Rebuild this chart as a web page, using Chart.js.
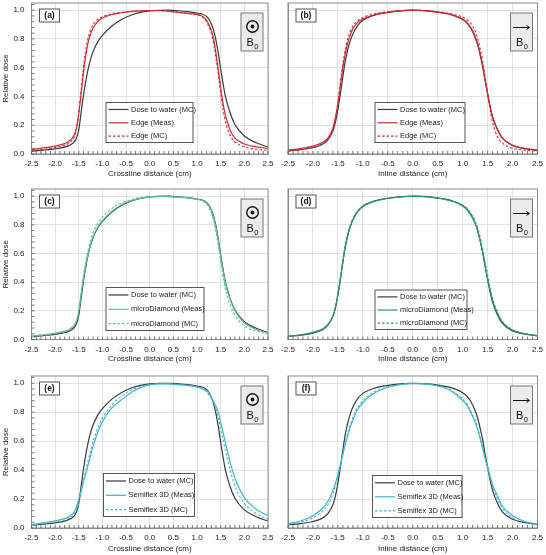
<!DOCTYPE html>
<html>
<head>
<meta charset="utf-8">
<script src="https://cdn.jsdelivr.net/npm/chart.js@4.4.0/dist/chart.umd.min.js"></script>
<style>
html, body { margin: 0; padding: 0; background: #fff; }
#fig { position: relative; width: 546px; height: 555px; overflow: hidden; }
#fig canvas { position: absolute; }
</style>
</head>
<body>
<div id="fig">
  <canvas id="pa" width="273" height="185" style="left:0;top:0"></canvas>
  <canvas id="pb" width="273" height="185" style="left:273px;top:0"></canvas>
  <canvas id="pc" width="273" height="185" style="left:0;top:185px"></canvas>
  <canvas id="pd" width="273" height="185" style="left:273px;top:185px"></canvas>
  <canvas id="pe" width="273" height="185" style="left:0;top:370px"></canvas>
  <canvas id="pf" width="273" height="185" style="left:273px;top:370px"></canvas>
</div>
<script>
// Off-axis positions (cm), shared by every profile
const distance = [-2.5, -2.25, -2.0, -1.8, -1.7, -1.6, -1.55, -1.5, -1.45, -1.4,
    -1.35, -1.3, -1.25, -1.2, -1.1, -1.0, -0.8, -0.6, -0.4, -0.2,
    0,
    0.2, 0.4, 0.6, 0.8, 1.0, 1.1, 1.2, 1.25, 1.3, 1.35,
    1.4, 1.45, 1.5, 1.55, 1.6, 1.7, 1.8, 2.0, 2.25, 2.5];

// Dose to water (MC)
const waterCross = [0.020, 0.027, 0.036, 0.048, 0.060, 0.082, 0.110, 0.170, 0.290, 0.410,
    0.510, 0.595, 0.660, 0.710, 0.780, 0.825, 0.890, 0.935, 0.965, 0.985,
    0.995,
    0.999, 1.000, 0.996, 0.990, 0.980, 0.974, 0.957, 0.937, 0.905, 0.860,
    0.790, 0.700, 0.590, 0.490, 0.400, 0.285, 0.205, 0.125, 0.078, 0.048];
const waterInline = [0.022, 0.030, 0.045, 0.070, 0.100, 0.160, 0.220, 0.310, 0.420, 0.540,
    0.650, 0.730, 0.790, 0.835, 0.895, 0.930, 0.962, 0.980, 0.990, 0.997,
    1.000,
    0.998, 0.992, 0.982, 0.966, 0.935, 0.905, 0.850, 0.810, 0.760, 0.690,
    0.610, 0.510, 0.420, 0.330, 0.260, 0.170, 0.110, 0.060, 0.037, 0.025];

// Edge detector
const edgeCrossMeas = [0.030, 0.042, 0.055, 0.072, 0.090, 0.130, 0.180, 0.280, 0.420, 0.570,
    0.690, 0.780, 0.835, 0.875, 0.920, 0.945, 0.970, 0.982, 0.990, 0.995,
    0.998,
    0.998, 0.993, 0.985, 0.978, 0.970, 0.960, 0.930, 0.900, 0.860, 0.800,
    0.700, 0.580, 0.460, 0.350, 0.270, 0.165, 0.110, 0.070, 0.050, 0.038];
const edgeCrossMC = [0.022, 0.032, 0.045, 0.060, 0.078, 0.115, 0.170, 0.290, 0.450, 0.610,
    0.730, 0.810, 0.865, 0.900, 0.935, 0.955, 0.975, 0.985, 0.992, 0.996,
    0.998,
    0.997, 0.992, 0.985, 0.978, 0.968, 0.955, 0.920, 0.885, 0.840, 0.770,
    0.670, 0.550, 0.420, 0.310, 0.225, 0.130, 0.085, 0.050, 0.033, 0.025];
const edgeInlineMeas = [0.028, 0.038, 0.055, 0.082, 0.110, 0.180, 0.250, 0.350, 0.470, 0.600,
    0.700, 0.775, 0.830, 0.870, 0.915, 0.938, 0.965, 0.980, 0.990, 0.997,
    1.000,
    0.997, 0.990, 0.980, 0.965, 0.938, 0.910, 0.858, 0.818, 0.768, 0.700,
    0.615, 0.515, 0.420, 0.330, 0.255, 0.165, 0.108, 0.060, 0.038, 0.027];
const edgeInlineMC = [0.020, 0.030, 0.045, 0.070, 0.100, 0.170, 0.250, 0.360, 0.500, 0.630,
    0.730, 0.805, 0.855, 0.890, 0.928, 0.950, 0.972, 0.985, 0.993, 0.998,
    1.000,
    0.998, 0.993, 0.985, 0.972, 0.952, 0.930, 0.890, 0.855, 0.805, 0.735,
    0.645, 0.540, 0.420, 0.310, 0.220, 0.120, 0.075, 0.040, 0.027, 0.020];

// microDiamond
const mdCrossMeas = [0.025, 0.033, 0.045, 0.058, 0.070, 0.100, 0.130, 0.200, 0.320, 0.430,
    0.520, 0.600, 0.665, 0.715, 0.785, 0.830, 0.895, 0.940, 0.968, 0.985,
    0.995,
    0.998, 0.997, 0.993, 0.988, 0.978, 0.972, 0.952, 0.930, 0.900, 0.850,
    0.780, 0.690, 0.580, 0.480, 0.390, 0.280, 0.200, 0.115, 0.070, 0.045];
const mdCrossMC = [0.020, 0.028, 0.040, 0.053, 0.066, 0.095, 0.130, 0.200, 0.330, 0.450,
    0.550, 0.630, 0.695, 0.745, 0.810, 0.855, 0.915, 0.952, 0.975, 0.990,
    0.997,
    0.999, 0.997, 0.993, 0.987, 0.977, 0.968, 0.945, 0.920, 0.885, 0.830,
    0.750, 0.650, 0.540, 0.440, 0.350, 0.240, 0.170, 0.095, 0.058, 0.040];
const mdInlineMeas = [0.024, 0.033, 0.050, 0.075, 0.105, 0.165, 0.225, 0.315, 0.425, 0.545,
    0.650, 0.730, 0.790, 0.835, 0.893, 0.928, 0.960, 0.978, 0.989, 0.996,
    0.999,
    0.997, 0.991, 0.980, 0.963, 0.932, 0.900, 0.847, 0.810, 0.760, 0.690,
    0.610, 0.515, 0.425, 0.340, 0.270, 0.180, 0.118, 0.064, 0.040, 0.027];
const mdInlineMC = [0.022, 0.031, 0.047, 0.072, 0.102, 0.165, 0.230, 0.325, 0.440, 0.560,
    0.665, 0.745, 0.800, 0.843, 0.900, 0.932, 0.963, 0.980, 0.990, 0.997,
    1.000,
    0.998, 0.992, 0.982, 0.966, 0.938, 0.910, 0.860, 0.825, 0.780, 0.715,
    0.635, 0.540, 0.450, 0.360, 0.285, 0.190, 0.125, 0.068, 0.041, 0.027];

// Semiflex 3D
const sfCrossMeas = [0.022, 0.035, 0.050, 0.065, 0.080, 0.110, 0.145, 0.200, 0.260, 0.320,
    0.380, 0.440, 0.500, 0.560, 0.660, 0.735, 0.830, 0.885, 0.935, 0.970,
    0.988,
    0.995, 0.995, 0.990, 0.985, 0.975, 0.965, 0.948, 0.932, 0.905, 0.870,
    0.840, 0.800, 0.730, 0.660, 0.590, 0.455, 0.345, 0.210, 0.130, 0.085];
const sfCrossMC = [0.020, 0.030, 0.042, 0.055, 0.068, 0.095, 0.125, 0.180, 0.250, 0.330,
    0.400, 0.470, 0.535, 0.595, 0.690, 0.760, 0.850, 0.910, 0.950, 0.978,
    0.992,
    0.997, 0.996, 0.990, 0.984, 0.973, 0.962, 0.940, 0.920, 0.900, 0.865,
    0.820, 0.760, 0.685, 0.610, 0.535, 0.400, 0.290, 0.170, 0.100, 0.060];
const sfInlineMeas = [0.030, 0.048, 0.085, 0.140, 0.185, 0.260, 0.310, 0.370, 0.440, 0.510,
    0.580, 0.640, 0.700, 0.745, 0.820, 0.865, 0.925, 0.960, 0.980, 0.993,
    0.998,
    0.996, 0.988, 0.972, 0.940, 0.880, 0.840, 0.770, 0.730, 0.680, 0.620,
    0.550, 0.480, 0.420, 0.360, 0.300, 0.220, 0.150, 0.085, 0.045, 0.028];
const sfInlineMC = [0.025, 0.040, 0.070, 0.120, 0.160, 0.235, 0.290, 0.355, 0.430, 0.510,
    0.590, 0.660, 0.715, 0.765, 0.835, 0.880, 0.935, 0.965, 0.982, 0.994,
    0.999,
    0.997, 0.990, 0.975, 0.945, 0.890, 0.850, 0.785, 0.745, 0.690, 0.630,
    0.560, 0.490, 0.420, 0.350, 0.290, 0.200, 0.135, 0.070, 0.038, 0.024];

const FONT = "'Liberation Sans', Arial, sans-serif";
const BLACK = '#3a3a3a';
const RED = '#d42a2f';
const GREEN_C = '#5dbf97';
const GREEN_D = '#2f9c68';
const CYAN = '#3fb6cb';

// canvas row geometry (padding above plot, height of x axis, x-title gap)
const rows = [
    { padTop: 3, axisH: 31, titlePad: 6 },
    { padTop: 4, axisH: 30.5, titlePad: 6 },
    { padTop: 6, axisH: 27, titlePad: 1.5 }
];

const panels = [
    { id: 'pa', tag: '(a)', row: 0, left: true, field: 'dot', xTitle: 'Crossline distance (cm)',
      legend: { x: 74.5, y: 99.5, w: 87, h: 40 },
      sets: [['Dose to water (MC)', waterCross, BLACK, false],
             ['Edge (Meas)', edgeCrossMeas, RED, false],
             ['Edge (MC)', edgeCrossMC, RED, true]] },
    { id: 'pb', tag: '(b)', row: 0, left: false, field: 'arrow', xTitle: 'Inline distance (cm)',
      legend: { x: 87, y: 99.5, w: 90, h: 40 },
      sets: [['Dose to water (MC)', waterInline, BLACK, false],
             ['Edge (Meas)', edgeInlineMeas, RED, false],
             ['Edge (MC)', edgeInlineMC, RED, true]] },
    { id: 'pc', tag: '(c)', row: 1, left: true, field: 'dot', xTitle: 'Crossline distance (cm)',
      legend: { x: 74.5, y: 98.5, w: 98, h: 43 },
      sets: [['Dose to water (MC)', waterCross, BLACK, false],
             ['microDiamond (Meas)', mdCrossMeas, GREEN_C, false],
             ['microDiamond (MC)', mdCrossMC, GREEN_C, true]] },
    { id: 'pd', tag: '(d)', row: 1, left: false, field: 'arrow', xTitle: 'Inline distance (cm)',
      legend: { x: 87, y: 101, w: 92, h: 39.5 },
      sets: [['Dose to water (MC)', waterInline, BLACK, false],
             ['microDiamond (Meas)', mdInlineMeas, GREEN_D, false],
             ['microDiamond (MC)', mdInlineMC, GREEN_D, true]] },
    { id: 'pe', tag: '(e)', row: 2, left: true, field: 'dot', xTitle: 'Crossline distance (cm)',
      legend: { x: 72, y: 97.5, w: 91, h: 43 },
      sets: [['Dose to water (MC)', waterCross, BLACK, false],
             ['Semiflex 3D (Meas)', sfCrossMeas, CYAN, false],
             ['Semiflex 3D (MC)', sfCrossMC, CYAN, true]] },
    { id: 'pf', tag: '(f)', row: 2, left: false, field: 'arrow', xTitle: 'Inline distance (cm)',
      legend: { x: 84.5, y: 99.5, w: 89.5, h: 42 },
      sets: [['Dose to water (MC)', waterInline, BLACK, false],
             ['Semiflex 3D (Meas)', sfInlineMeas, CYAN, false],
             ['Semiflex 3D (MC)', sfInlineMC, CYAN, true]] }
];

// frame, minor ticks, panel tag, B0 box and legend drawn on top of the plot
const decorPlugin = {
    id: 'decor',
    beforeDraw(chart) {
        const ctx = chart.ctx;
        ctx.save();
        ctx.fillStyle = '#fff';
        ctx.fillRect(0, 0, chart.width, chart.height);
        ctx.restore();
    },
    afterDatasetsDraw(chart, args, o) {
        const { ctx, chartArea: a } = chart;
        const xs = chart.scales.x, ys = chart.scales.y;
        ctx.save();

        // frame
        ctx.strokeStyle = '#8c8c8c';
        ctx.lineWidth = 1;
        ctx.strokeRect(a.left, a.top, a.right - a.left, a.bottom - a.top);

        // minor ticks
        ctx.strokeStyle = '#555';
        ctx.lineWidth = 0.8;
        ctx.beginPath();
        for (let i = 0; i <= 50; i++) {
            const px = xs.getPixelForValue(-2.5 + i * 0.1);
            ctx.moveTo(px, a.bottom);
            ctx.lineTo(px, a.bottom - 3);
        }
        if (o.left) {
            for (let i = 0; i <= 26; i++) {
                const py = ys.getPixelForValue(i * 0.04);
                ctx.moveTo(a.left, py);
                ctx.lineTo(a.left + 3, py);
            }
        }
        ctx.stroke();

        // panel tag
        const tx = a.left + 8, ty = a.top + 6;
        ctx.fillStyle = '#fff';
        ctx.fillRect(tx, ty, 20, 13);
        ctx.strokeStyle = '#555';
        ctx.lineWidth = 1;
        ctx.strokeRect(tx, ty, 20, 13);
        ctx.fillStyle = '#111';
        ctx.font = 'bold 8.5px ' + FONT;
        ctx.textAlign = 'center';
        ctx.textBaseline = 'middle';
        ctx.fillText(o.tag, tx + 10, ty + 7);

        // magnetic field box
        const bx = a.right - 5 - 22, by = a.top + 10;
        ctx.fillStyle = '#ebebeb';
        ctx.fillRect(bx, by, 22, 38);
        ctx.strokeStyle = '#777';
        ctx.strokeRect(bx, by, 22, 38);
        ctx.strokeStyle = '#111';
        ctx.fillStyle = '#111';
        if (o.field === 'dot') {
            ctx.lineWidth = 1.4;
            ctx.beginPath();
            ctx.arc(bx + 11.5, by + 13.5, 5.8, 0, Math.PI * 2);
            ctx.stroke();
            ctx.beginPath();
            ctx.arc(bx + 11.5, by + 13.5, 1.9, 0, Math.PI * 2);
            ctx.fill();
        } else {
            ctx.lineWidth = 1;
            ctx.beginPath();
            ctx.moveTo(bx + 2.5, by + 14.5);
            ctx.lineTo(bx + 19, by + 14.5);
            ctx.moveTo(bx + 16, by + 12.5);
            ctx.lineTo(bx + 19, by + 14.5);
            ctx.lineTo(bx + 16, by + 16.5);
            ctx.stroke();
        }
        ctx.font = '11px ' + FONT;
        ctx.textAlign = 'left';
        ctx.textBaseline = 'middle';
        const bw = ctx.measureText('B').width;
        ctx.font = '7.5px ' + FONT;
        const zw = ctx.measureText('0').width;
        const sx = bx + 11.5 - (bw + zw + 0.5) / 2;
        ctx.font = '11px ' + FONT;
        ctx.fillText('B', sx, by + 30);
        ctx.font = '7.5px ' + FONT;
        ctx.fillText('0', sx + bw + 0.5, by + 33.5);

        // legend
        const L = o.legend;
        const lx = a.left + L.x, ly = a.top + L.y;
        ctx.fillStyle = '#fff';
        ctx.fillRect(lx, ly, L.w, L.h);
        ctx.strokeStyle = '#555';
        ctx.lineWidth = 1;
        ctx.strokeRect(lx, ly, L.w, L.h);
        ctx.font = '7.5px ' + FONT;
        ctx.textBaseline = 'middle';
        chart.data.datasets.forEach((ds, i) => {
            const cy = ly + L.h / 6 + i * L.h / 3 + 0.3;
            ctx.strokeStyle = ds.borderColor;
            ctx.lineWidth = 1.2;
            ctx.setLineDash(ds.borderDash || []);
            ctx.beginPath();
            ctx.moveTo(lx + 2.5, cy);
            ctx.lineTo(lx + 22.5, cy);
            ctx.stroke();
            ctx.setLineDash([]);
            ctx.fillStyle = '#222';
            ctx.fillText(ds.label, lx + 25, cy);
        });
        ctx.restore();
    }
};

function makePanel(p) {
    const r = rows[p.row];
    const datasets = p.sets.map(([label, values, color, dashed], i) => ({
        label: label,
        data: distance.map((x, k) => ({ x: x, y: values[k] })),
        borderColor: color,
        borderWidth: dashed ? 1.1 : 1.2,
        borderDash: dashed ? [2.5, 2] : [],
        pointRadius: 0,
        cubicInterpolationMode: 'monotone',
        order: i === 0 ? 2 : 1
    }));

    new Chart(document.getElementById(p.id), {
        type: 'line',
        data: { datasets: datasets },
        plugins: [decorPlugin],
        options: {
            responsive: false,
            animation: false,
            devicePixelRatio: 1,
            layout: { padding: { left: 0, right: p.left ? 5 : 8.5, top: r.padTop, bottom: 0 } },
            plugins: {
                legend: { display: false },
                tooltip: { enabled: false },
                decor: { tag: p.tag, left: p.left, field: p.field, legend: p.legend }
            },
            scales: {
                x: {
                    type: 'linear',
                    min: -2.5,
                    max: 2.5,
                    afterFit: s => { s.height = r.axisH; s.paddingLeft = 0; s.paddingRight = 0; },
                    ticks: {
                        stepSize: 0.5,
                        padding: 5,
                        maxRotation: 0,
                        autoSkip: false,
                        color: '#222',
                        font: { family: FONT, size: 8 },
                        callback: v => Number(v).toFixed(1)
                    },
                    grid: { color: '#dadada', lineWidth: 0.8, drawTicks: false },
                    border: { color: '#8c8c8c' },
                    title: {
                        display: true,
                        text: p.xTitle,
                        color: '#222',
                        font: { family: FONT, size: 8 },
                        padding: { top: 0, bottom: r.titlePad }
                    }
                },
                y: {
                    min: 0,
                    max: 1.05,
                    afterFit: s => { s.width = p.left ? 31.5 : 15; s.paddingTop = 0; s.paddingBottom = 0; },
                    ticks: {
                        display: p.left,
                        stepSize: 0.2,
                        includeBounds: false,
                        padding: 7,
                        color: '#222',
                        font: { family: FONT, size: 8 },
                        callback: v => Number(v).toFixed(1)
                    },
                    grid: { color: '#dadada', lineWidth: 0.8, drawTicks: false },
                    border: { color: '#8c8c8c' },
                    title: {
                        display: p.left,
                        text: 'Relative dose',
                        color: '#222',
                        font: { family: FONT, size: 8 },
                        padding: { top: 1, bottom: 0 }
                    }
                }
            }
        }
    });
}

panels.forEach(makePanel);
</script>
</body>
</html>
